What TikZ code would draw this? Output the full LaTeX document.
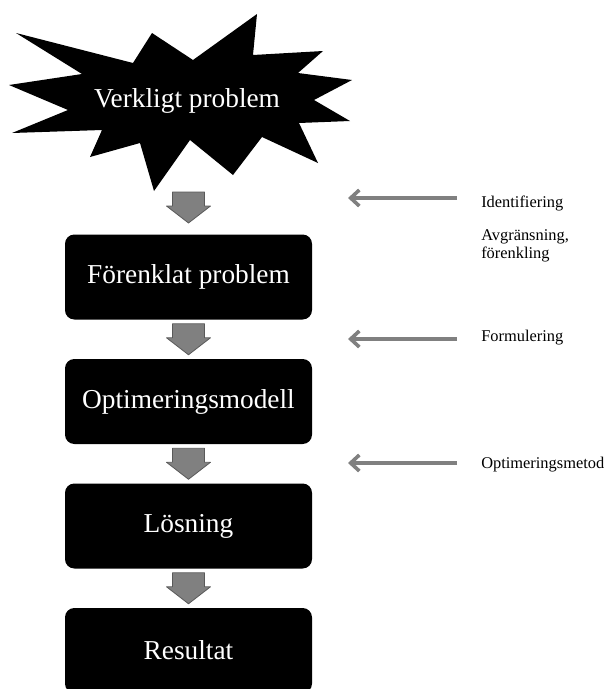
\documentclass[tikz,border=0pt]{standalone}
\usepackage{fontspec}
\setmainfont{Liberation Serif}
\usetikzlibrary{arrows.meta}
\tikzset{
    boxstyle/.style={fill=black,rounded corners=7pt,minimum width=185.25pt,minimum height=63.75pt,text=white,font=\fontsize{20.5}{24}\selectfont},
    blockarr/.style={fill=black!50,draw=black!65,line width=0.6pt,line join=round},
    sidearr/.style={draw=black!50,line width=2.7pt,-{Straight Barb[length=6.5pt,width=12pt]}},
    note/.style={right,inner sep=0pt,align=left,font=\fontsize{12.3}{13.5}\selectfont}
}
\begin{document}
\begin{tikzpicture}[x=0.75pt,y=-0.75pt]
    \useasboundingbox (0,0) rectangle (609,689);
    \clip (0,0) rectangle (609,689);
    \fill[white] (0,0) rectangle (609,689);
    \fill (16,33)--(133,63)--(152,33)--(193,60)--(257,14)--(253,55)--(323,51)--(298,73)
        --(352,80)--(314,100)--(350,121)--(299,123)--(318,163)--(262,137)--(233,175)
        --(190,140)--(154,191)--(140,143)--(90,157)--(102,130)--(12,133)--(68,110)
        --(9,85)--(82,74)--cycle;
    \node[text=white,font=\fontsize{20.5}{24}\selectfont] (real) at (187,101) {Verkligt problem};
    \coordinate (realbot) at (188.5,188);
    \node[boxstyle] (simp) at (188.5,277) {Förenklat problem};
    \node[boxstyle] (model) at (188.5,401.5) {Optimeringsmodell};
    \node[boxstyle] (sol) at (188.5,526) {Lösning};
    \node[boxstyle] (res) at (188.5,650.5) {Resultat};
    \foreach \n in {realbot,simp.south,model.south,sol.south}
    {
        \draw[blockarr] (\n) ++(-16,4) -- ++(32,0) -- ++(0,14) -- ++(6,0)
            -- ++(-22,17) -- ++(-22,-17) -- ++(6,0) -- cycle;
    }
    \node[note] (lid) at (481,203) {Identifiering};
    \node[note] (lavg) at (481,246) {Avgränsning,\\förenkling};
    \node[note] (lform) at (481,338) {Formulering};
    \node[note] (lopt) at (481,465) {Optimeringsmetod};
    \foreach \y/\n in {198/id,339/form,463/opt}
    {
        \coordinate (t\n) at (457,\y);
        \coordinate (h\n) at (348,\y);
        \draw[sidearr] (t\n) -- (h\n);
    }
\end{tikzpicture}
\end{document}
